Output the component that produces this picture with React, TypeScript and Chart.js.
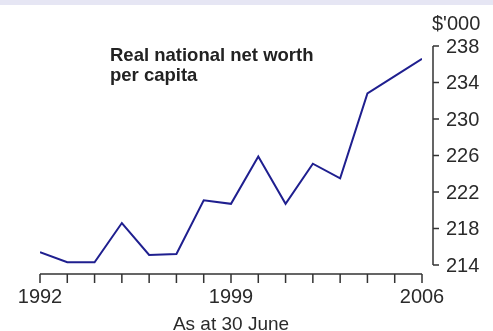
import React, { useEffect, useRef } from "react";
import { Chart, registerables } from "chart.js";

Chart.register(...registerables);

const years = [1992, 1993, 1994, 1995, 1996, 1997, 1998, 1999, 2000, 2001, 2002, 2003, 2004, 2005, 2006];
const netWorth = [215.4, 214.3, 214.3, 218.6, 215.1, 215.2, 221.1, 220.7, 225.9, 220.7, 225.1, 223.5, 232.8, 234.7, 236.6];
const yTicks = [214, 218, 222, 226, 230, 234, 238];
const xTickLabels = [1992, 1999, 2006];
const unitLabel = "$'000";
const titleLines = ["Real national net worth", "per capita"];
const xAxisTitle = "As at 30 June";

const FONT = "'Liberation Sans', Arial, sans-serif";
const TEXT = "#2a2a2a";
const AXIS = "#333333";

export default function App() {
  const ref = useRef<HTMLCanvasElement | null>(null);

  useEffect(() => {
    if (!ref.current) return;
    const decor = {
      id: "decor",
      beforeDraw(chart: any) {
        const ctx = chart.ctx;
        ctx.save();
        ctx.fillStyle = "#ffffff";
        ctx.fillRect(0, 0, chart.width, chart.height);
        ctx.fillStyle = "#e6e6f4";
        ctx.fillRect(0, 0, chart.width, 5);
        ctx.restore();
      },
      afterDraw(chart: any) {
        const { ctx, chartArea, scales } = chart;
        const xs = scales.x;
        const ys = scales.y;
        ctx.save();
        ctx.strokeStyle = AXIS;
        ctx.lineWidth = 1.5;
        // x axis
        const axisY = chartArea.bottom + 9;
        const x0 = xs.getPixelForValue(years[0]);
        const x1 = xs.getPixelForValue(years[years.length - 1]);
        ctx.beginPath();
        ctx.moveTo(x0, axisY);
        ctx.lineTo(x1, axisY);
        for (const yr of years) {
          const px = xs.getPixelForValue(yr);
          ctx.moveTo(px, axisY);
          ctx.lineTo(px, axisY + 9);
        }
        ctx.stroke();
        ctx.fillStyle = TEXT;
        ctx.font = `20px ${FONT}`;
        ctx.textAlign = "center";
        ctx.textBaseline = "alphabetic";
        for (const yr of xTickLabels) {
          ctx.fillText(String(yr), xs.getPixelForValue(yr), axisY + 29);
        }
        ctx.font = `19px ${FONT}`;
        ctx.fillText(xAxisTitle, (x0 + x1) / 2, axisY + 56);

        // y axis on the right
        const axisX = chartArea.right + 11;
        const yTop = ys.getPixelForValue(yTicks[yTicks.length - 1]);
        const yBot = ys.getPixelForValue(yTicks[0]);
        ctx.beginPath();
        ctx.moveTo(axisX, yTop);
        ctx.lineTo(axisX, yBot);
        for (const t of yTicks) {
          const py = ys.getPixelForValue(t);
          ctx.moveTo(axisX, py);
          ctx.lineTo(axisX + 6, py);
        }
        ctx.stroke();
        ctx.font = `20px ${FONT}`;
        ctx.textAlign = "left";
        ctx.textBaseline = "middle";
        for (const t of yTicks) {
          ctx.fillText(String(t), axisX + 13, ys.getPixelForValue(t) + 1);
        }
        ctx.fillText(unitLabel, axisX - 1, yTop - 22);

        // title
        ctx.font = `bold 18.5px ${FONT}`;
        ctx.textBaseline = "alphabetic";
        ctx.fillStyle = "#222222";
        titleLines.forEach((line, i) => {
          ctx.fillText(line, 110, 61 + i * 20);
        });
        ctx.restore();
      },
    };

    const chart = new Chart(ref.current, {
      type: "line",
      data: {
        datasets: [
          {
            data: years.map((y, i) => ({ x: y, y: netWorth[i] })),
            borderColor: "#1f1f8f",
            borderWidth: 2,
            pointRadius: 0,
            tension: 0,
            fill: false,
          },
        ],
      },
      options: {
        responsive: false,
        animation: false,
        events: [],
        layout: { padding: { left: 40, top: 46, right: 71, bottom: 66 } },
        plugins: { legend: { display: false }, tooltip: { enabled: false } },
        scales: {
          x: { type: "linear", min: 1992, max: 2006, display: false },
          y: { type: "linear", min: 214, max: 238, display: false },
        },
      },
      plugins: [decor],
    });
    return () => chart.destroy();
  }, []);

  return (
    <div style={{ position: "absolute", left: 0, top: 0, width: 493, height: 331 }}>
      <canvas ref={ref} width={493} height={331} style={{ width: 493, height: 331, display: "block" }} />
    </div>
  );
}
